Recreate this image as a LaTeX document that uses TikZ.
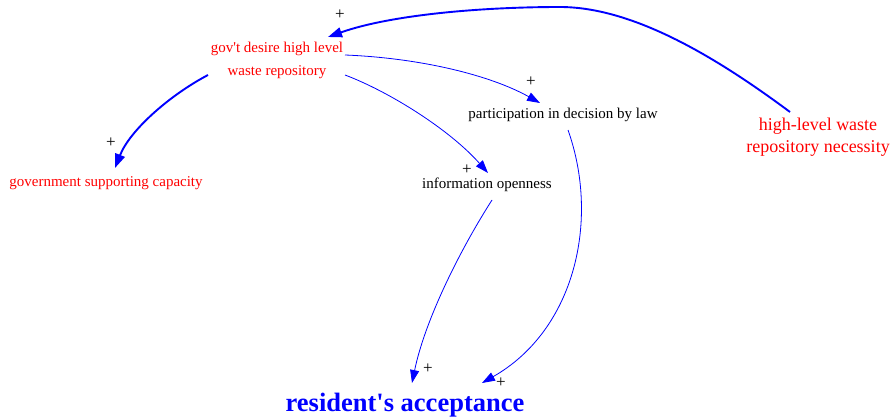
\documentclass[tikz,border=0pt]{standalone}
\usepackage{fontspec}
\setmainfont{Liberation Serif}[Ligatures=TeXOff]
\usetikzlibrary{arrows.meta}
\begin{document}
\begin{tikzpicture}[x=1pt,y=-1pt,
  lab/.style={inner sep=0pt,align=center},
  redlab/.style={lab,text=red,font=\fontsize{15}{23}\selectfont},
  blacklab/.style={lab,text=black,font=\fontsize{15}{23}\selectfont},
  thinedge/.style={draw=blue,line width=0.8pt,-{Triangle[length=13pt,width=9pt]}},
  thickedge/.style={draw=blue,line width=1.9pt,-{Triangle[length=14pt,width=10pt]}},
  pl/.style={inner sep=0pt,font=\fontsize{17}{17}\selectfont}]
\useasboundingbox (0,0) rectangle (894,420);
\node[redlab] (gov) at (277,60) {gov't desire high level\\waste repository};
\node[redlab] (gsc) at (106,183) {government supporting capacity};
\node[blacklab] (part) at (563,115) {participation in decision by law};
\node[blacklab] (info) at (487,185) {information openness};
\node[lab,text=red,font=\fontsize{18}{22}\selectfont] (hlw) at (818,137) {high-level waste\\repository necessity};
\node[lab,text=blue,font=\bfseries\fontsize{26.5}{26}\selectfont] (res) at (405,405) {resident's acceptance};
\coordinate (top) at (560,7);
\draw[draw=blue,line width=1.9pt] (790,112) .. controls (720,60) and (635,7) .. (top);
\draw[thickedge] (top) .. controls (480,7) and (390,15) .. (328,37);
\draw[thickedge] (208,75) .. controls (170,95) and (130,130) .. (115,168);
\draw[thinedge] (345,55) .. controls (420,58) and (490,75) .. (540,103);
\draw[thinedge] (345,75) .. controls (390,92) and (450,130) .. (488,173);
\draw[thinedge] (492,200) .. controls (460,250) and (425,320) .. (412,383);
\draw[thinedge] (568,130) .. controls (600,220) and (575,330) .. (482,383);
\node[pl] (p1) at (340,15) {+};
\node[pl] (p2) at (111,143) {+};
\node[pl] (p3) at (531,82) {+};
\node[pl] (p4) at (467,170) {+};
\node[pl] (p5) at (428,369) {+};
\node[pl] (p6) at (501,383) {+};
\end{tikzpicture}
\end{document}
